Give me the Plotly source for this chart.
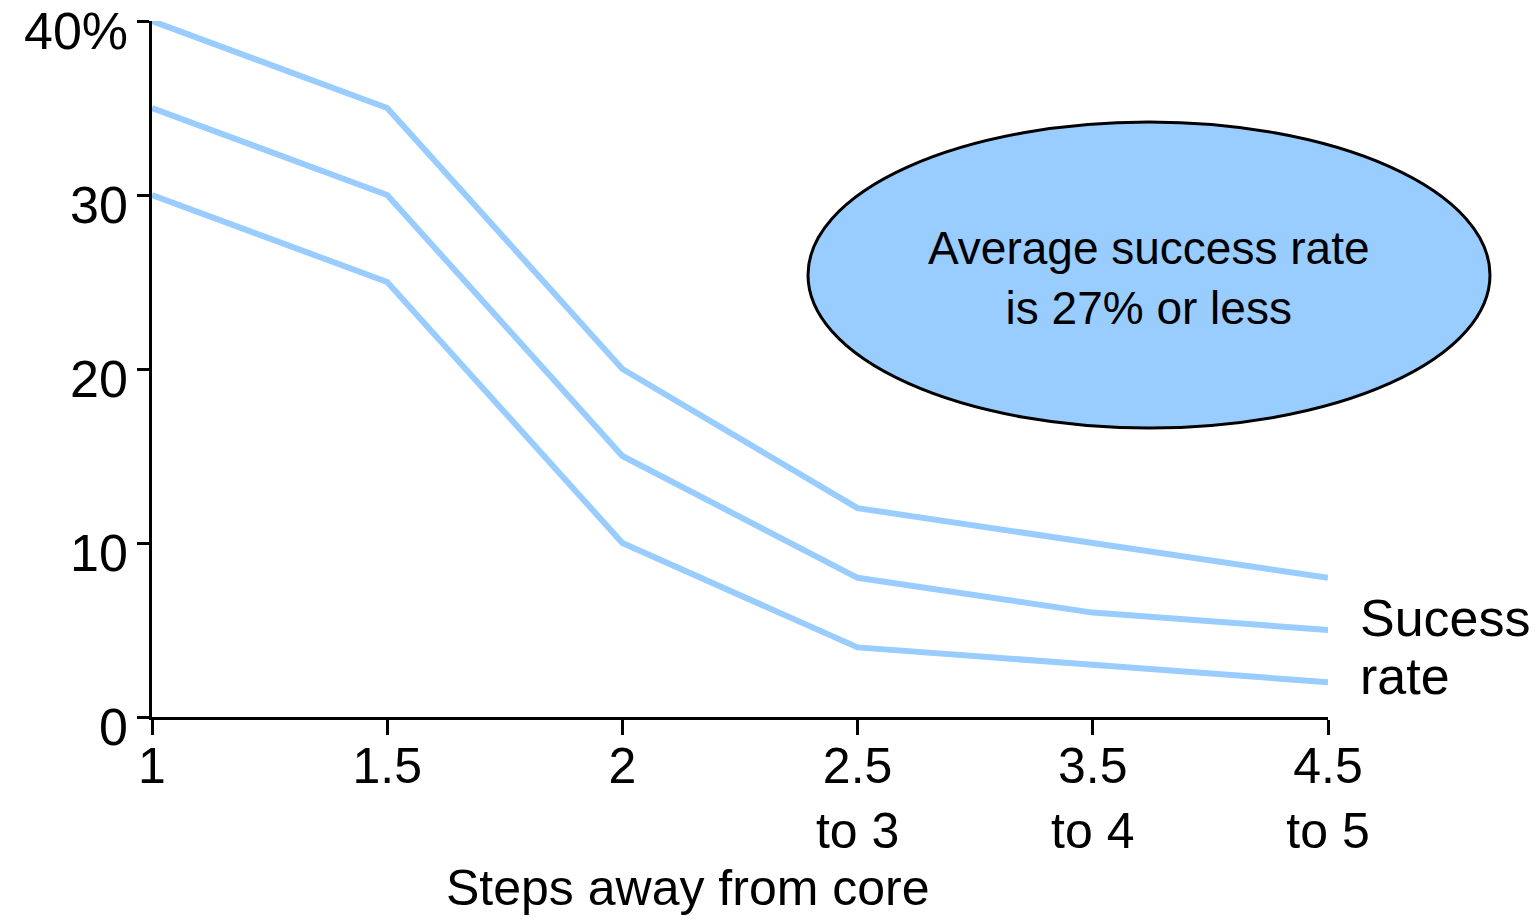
import plotly.graph_objects as go

# Steps away from the core business (category labels on the x axis)
steps = ["1", "1.5", "2", "2.5<br>to 3", "3.5<br>to 4", "4.5<br>to 5"]

# Success rate (%) bands
rate_high = [40, 35, 20, 12, 10, 8]
rate_mid = [35, 30, 15, 8, 6, 5]
rate_low = [30, 25, 10, 4, 3, 2]

y_ticks = [0, 10, 20, 30, 40]
y_tick_text = ["0", "10", "20", "30", "40%"]

LINE_COLOR = "#99CCFF"
FONT = "Liberation Sans, Arial, Helvetica, sans-serif"
W, H = 1536, 921
L, R, T, B = 152, 208, 21, 204
PW, PH = W - L - R, H - T - B


def px_x(p):
    return (p - L) / PW


def px_y(p):
    return (H - B - p) / PH


fig = go.Figure()
for series in (rate_high, rate_mid, rate_low):
    fig.add_trace(go.Scatter(
        x=steps, y=series, mode="lines",
        line=dict(color=LINE_COLOR, width=6),
        showlegend=False, hoverinfo="skip",
    ))

# y tick labels sit slightly below their tick marks
y_labels = [
    dict(
        text=txt, xref="paper", yref="y", x=0, y=val,
        xanchor="right", yanchor="middle", xshift=-22, yshift=-10,
        showarrow=False, font=dict(family=FONT, size=52),
    )
    for val, txt in zip(y_ticks, y_tick_text)
]

fig.update_layout(
    width=W, height=H,
    margin=dict(l=L, r=R, t=T, b=B, autoexpand=False),
    paper_bgcolor="white", plot_bgcolor="white",
    font=dict(family=FONT, color="black", size=52),
    xaxis=dict(
        type="category", range=[0, 5], showgrid=False, zeroline=False,
        showline=True, linecolor="black", linewidth=3,
        ticks="outside", ticklen=15, tickwidth=3, tickcolor="black",
        ticklabelstandoff=-12, ticklabeloverflow="allow",
        tickfont=dict(family=FONT, size=50),
    ),
    yaxis=dict(
        range=[0, 40], showgrid=False, zeroline=False,
        showline=True, linecolor="black", linewidth=3,
        ticks="outside", ticklen=12, tickwidth=3, tickcolor="black",
        tickvals=y_ticks, showticklabels=False,
    ),
    shapes=[dict(
        type="circle", xref="paper", yref="paper",
        x0=px_x(808), x1=px_x(1490), y0=px_y(428), y1=px_y(122),
        fillcolor=LINE_COLOR, line=dict(color="black", width=3),
        layer="above",
    )],
    annotations=y_labels + [
        dict(
            text="Average success rate<br>is 27% or less",
            xref="paper", yref="paper", x=px_x(1149), y=px_y(278),
            xanchor="center", yanchor="middle", showarrow=False,
            font=dict(family=FONT, size=46),
        ),
        dict(
            text="Steps away from core",
            xref="paper", yref="paper", x=px_x(688), y=px_y(888),
            xanchor="center", yanchor="middle", showarrow=False,
            font=dict(family=FONT, size=50),
        ),
        dict(
            text="Sucess", align="left",
            xref="paper", yref="paper", x=px_x(1358), y=px_y(618),
            xanchor="left", yanchor="middle", showarrow=False,
            font=dict(family=FONT, size=52),
        ),
        dict(
            text="rate", align="left",
            xref="paper", yref="paper", x=px_x(1358), y=px_y(676),
            xanchor="left", yanchor="middle", showarrow=False,
            font=dict(family=FONT, size=52),
        ),
    ],
)

fig.write_html("out.html")
